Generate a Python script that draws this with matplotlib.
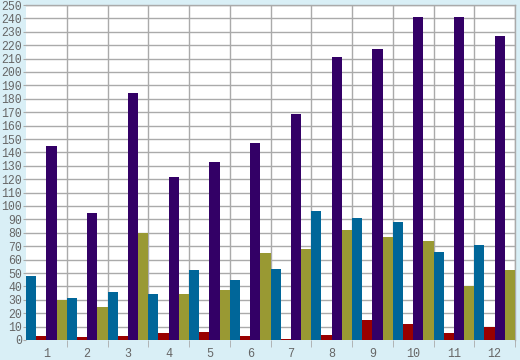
import matplotlib.pyplot as plt
import numpy as np

# values
groups = ['1', '2', '3', '4', '5', '6', '7', '8', '9', '10', '11', '12']
blue = [48, 31, 36, 34, 52, 45, 53, 96, 91, 88, 66, 71]
red = [3, 2, 3, 5, 6, 3, 1, 4, 15, 12, 5, 10]
purple = [145, 95, 184, 122, 133, 147, 169, 211, 217, 241, 241, 227]
olive = [30, 25, 80, 34, 37, 65, 68, 82, 77, 74, 40, 52]

series = [blue, red, purple, olive]
colors = ['#006699', '#990000', '#330066', '#999933']

bg = '#d9eff6'
grid_col = '#aaaaaa'
txt_col = '#666666'

fig = plt.figure(figsize=(5.2, 3.6), dpi=100, facecolor=bg)
ax = fig.add_axes([26/520, 20/360, 489/520, 335/360])
ax.set_facecolor('white')

x = np.arange(len(groups))
w = 0.25
for j, (vals, c) in enumerate(zip(series, colors)):
	ax.bar(x + w/2 + j*w, vals, width=w, color=c, zorder=3, linewidth=0)

ax.set_xlim(0, len(groups))
ax.set_ylim(0, 250)

# y axis
ax.set_yticks(np.arange(0, 251, 10))
ax.tick_params(axis='y', length=2.5, color=grid_col, labelcolor=txt_col, labelsize=8.3, pad=0.5)

# x axis: labels centered, tick marks at group boundaries
ax.set_xticks(x + 0.5)
ax.set_xticklabels(groups)
ax.set_xticks(np.arange(1, len(groups) + 1), minor=True)
ax.tick_params(axis='x', which='major', length=0, labelcolor=txt_col, labelsize=8.5, pad=6)
ax.tick_params(axis='x', which='minor', length=5, color=grid_col)

for lab in ax.get_xticklabels() + ax.get_yticklabels():
	lab.set_family(['Liberation Mono', 'DejaVu Sans Mono'])

ax.grid(True, axis='y', color=grid_col, linewidth=1, zorder=1)
ax.grid(True, axis='x', which='minor', color=grid_col, linewidth=1, zorder=1)

for side in ['left', 'bottom']:
	ax.spines[side].set_visible(False)
for side in ['top', 'right']:
	ax.spines[side].set_color(grid_col)
	ax.spines[side].set_linewidth(1)

fig.savefig('out.png', dpi=100, facecolor=bg)
